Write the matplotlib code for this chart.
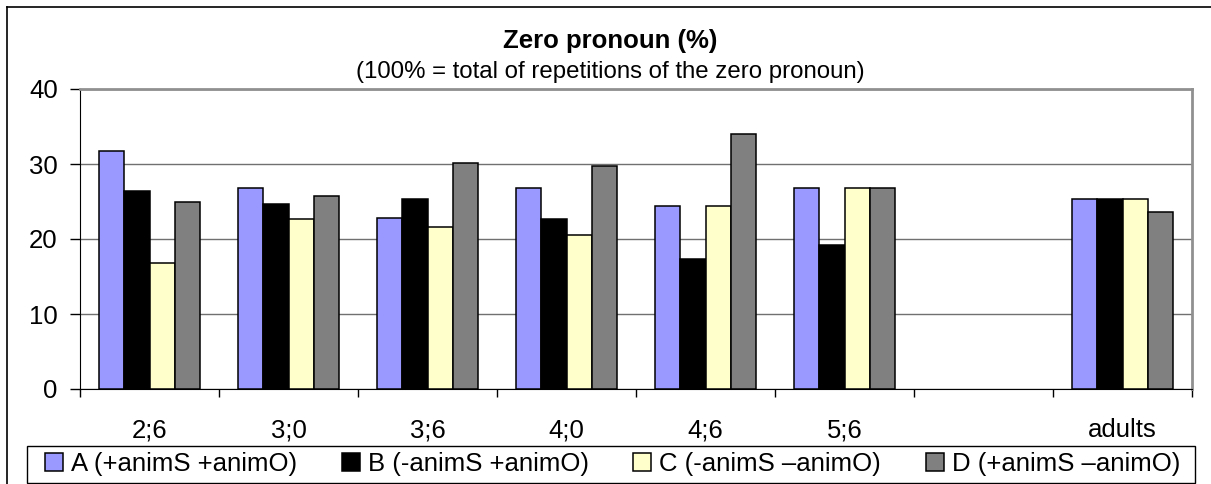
import numpy as np
import matplotlib.pyplot as plt
from matplotlib.lines import Line2D
from matplotlib.patches import Patch, Rectangle

plt.rcParams["font.family"] = ["Liberation Sans", "DejaVu Sans"]

categories = ["2;6", "3;0", "3;6", "4;0", "4;6", "5;6", "", "adults"]
series_labels = [
    "A (+animS +animO)",
    "B (-animS +animO)",
    "C (-animS \u2013animO)",
    "D (+animS \u2013animO)",
]
a_vals = [31.8, 26.8, 22.8, 26.8, 24.4, 26.8, np.nan, 25.4]
b_vals = [26.4, 24.7, 25.3, 22.7, 17.3, 19.2, np.nan, 25.4]
c_vals = [16.8, 22.7, 21.6, 20.5, 24.4, 26.8, np.nan, 25.4]
d_vals = [25.0, 25.8, 30.1, 29.8, 34.0, 26.8, np.nan, 23.6]
colors = ["#9999FF", "#000000", "#FFFFCC", "#808080"]

W, H = 1211, 484
fig = plt.figure(figsize=(W / 100, H / 100), dpi=100)
ax = fig.add_axes([80 / W, 1 - 389 / H, 1112 / W, 300 / H])

x = np.arange(len(categories))
w = 1 / 5.5  # excel gap width 150%
for i, vals in enumerate([a_vals, b_vals, c_vals, d_vals]):
    ax.bar(x + (i - 1.5) * w, vals, width=w, color=colors[i],
           edgecolor="black", linewidth=1.1, zorder=3)

ax.set_xlim(-0.5, len(categories) - 0.5)
ax.set_ylim(0, 40)
ax.set_yticks([0, 10, 20, 30, 40])
ax.yaxis.grid(True, color="#707070", linewidth=1.0, zorder=0)
ax.tick_params(axis="y", direction="out", length=7, width=1,
               labelsize=18.5, pad=9)

ax.set_xticks(x)
ax.set_xticklabels(categories)
ax.set_xticks(np.arange(len(categories) + 1) - 0.5, minor=True)
ax.tick_params(axis="x", which="major", length=0, labelsize=18.5, pad=21)
ax.tick_params(axis="x", which="minor", direction="out", length=6, width=1)

ax.spines["left"].set_color("black")
ax.spines["bottom"].set_color("black")
for side in ["top", "right"]:
    ax.spines[side].set_color("#909090")
    ax.spines[side].set_linewidth(2)

fig.text(610 / W, 1 - 48 / H, "Zero pronoun (%)", ha="center", va="baseline",
         fontsize=18.5, fontweight="bold")
fig.text(610 / W, 1 - 78 / H, "(100% = total of repetitions of the zero pronoun)",
         ha="center", va="baseline", fontsize=17.3)

# legend box drawn separately, entries spread inside it
fig.add_artist(Rectangle((27 / W, 1 - 483 / H), 1168 / W, 37 / H,
                         transform=fig.transFigure, facecolor="none",
                         edgecolor="black", linewidth=1.0))
handles = [Patch(facecolor=c, edgecolor="black", linewidth=1.1) for c in colors]
fig.legend(handles, series_labels, ncol=4, loc="center",
           bbox_to_anchor=(45 / W, 1 - 474 / H, 1135 / W, 20 / H), mode="expand",
           fontsize=18.5, frameon=False, borderaxespad=0, borderpad=0,
           handlelength=0.7, handleheight=0.7, handletextpad=0.3,
           columnspacing=1.0)

# outer chart frame (left and top edges visible)
fig.add_artist(Line2D([7 / W, 7 / W], [0, 1 - 7 / H], color="black", linewidth=1.2))
fig.add_artist(Line2D([7 / W, 1.0], [1 - 7 / H, 1 - 7 / H], color="black", linewidth=1.2))

fig.savefig("out.png", dpi=100)
